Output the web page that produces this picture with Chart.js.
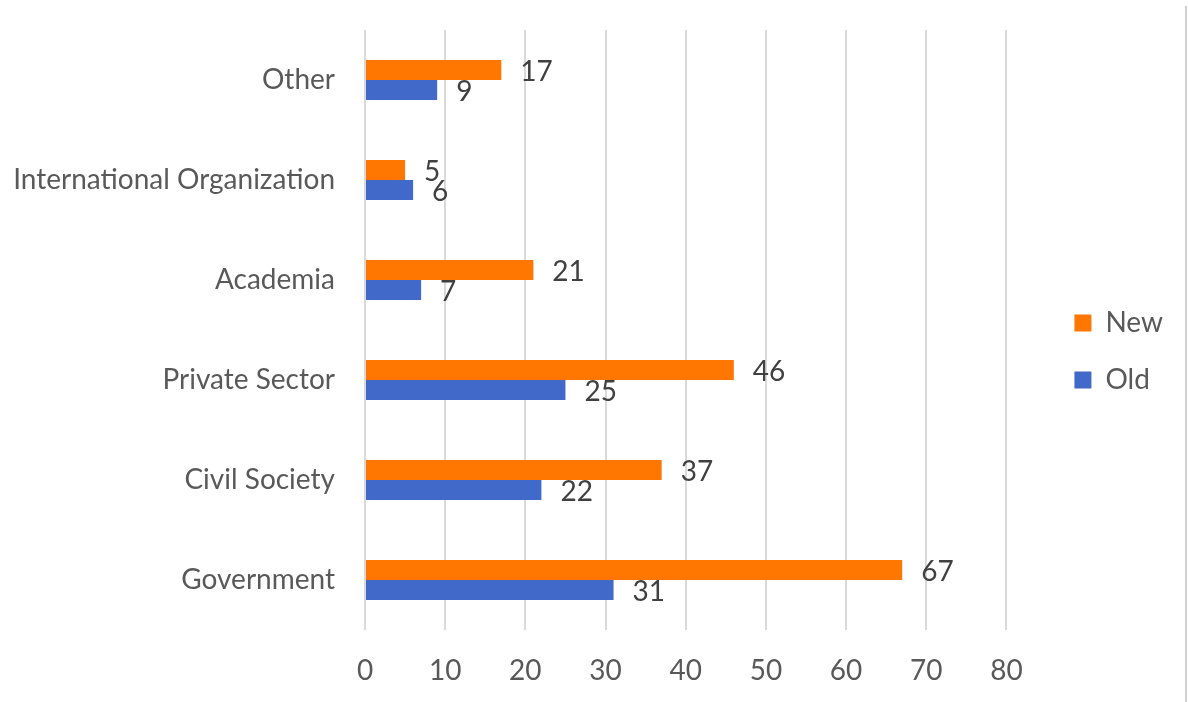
<!DOCTYPE html>
<html>
<head>
<meta charset="utf-8">
<script src="https://cdn.jsdelivr.net/npm/chart.js@4.4.1/dist/chart.umd.min.js"></script>
<style>
  html, body { margin: 0; padding: 0; background: #fff; }
  #wrap { width: 1188px; height: 702px; position: relative; }
  #edge { position: absolute; left: 1185px; top: 6px; width: 2px; height: 696px; background: #cfcfcf; }
</style>
</head>
<body>
<div id="wrap">
  <canvas id="myChart" width="1188" height="702"></canvas>
  <div id="edge"></div>
</div>
<script>
var categories = ["Other", "International Organization", "Academia", "Private Sector", "Civil Society", "Government"];
var newValues = [17, 5, 21, 46, 37, 67];
var oldValues = [9, 6, 7, 25, 22, 31];
var xTicks = [0, 10, 20, 30, 40, 50, 60, 70, 80];

var fontName = "Lato, 'Open Sans', sans-serif";
var fontSize = 28;

// writes each bar's value just past its end
var valueLabels = {
  id: "valueLabels",
  afterDatasetsDraw: function(chart) {
    var ctx = chart.ctx;
    ctx.save();
    ctx.font = fontSize + "px " + fontName;
    ctx.fillStyle = "#404040";
    ctx.textBaseline = "middle";
    ctx.textAlign = "left";
    chart.data.datasets.forEach(function(ds, i) {
      var meta = chart.getDatasetMeta(i);
      meta.data.forEach(function(bar, j) {
        ctx.fillText(ds.data[j], bar.x + 19, bar.y + 2);
      });
    });
    ctx.restore();
  }
};

function init() {
  var ctx = document.getElementById("myChart");
  new Chart(ctx, {
    type: "bar",
    data: {
      labels: categories,
      datasets: [
        {
          label: "New",
          data: newValues,
          backgroundColor: "#ff7600",
          categoryPercentage: 0.4,
          barPercentage: 1.0
        },
        {
          label: "Old",
          data: oldValues,
          backgroundColor: "#4169c9",
          categoryPercentage: 0.4,
          barPercentage: 1.0
        }
      ]
    },
    options: {
      indexAxis: "y",
      responsive: false,
      animation: false,
      layout: {
        autoPadding: false,
        padding: { top: 13, bottom: 12, left: 0, right: 15 }
      },
      scales: {
        x: {
          min: 0,
          max: 80,
          afterBuildTicks: function(scale) {
            scale.ticks = xTicks.map(function(v) { return { value: v }; });
          },
          afterFit: function(scale) {
            scale.height = 60;
            scale.paddingLeft = 0;
            scale.paddingRight = 0;
          },
          grid: { color: "#d9d9d9", lineWidth: 2, drawTicks: false },
          border: { display: false },
          ticks: {
            padding: 24,
            color: "#595959",
            font: { family: fontName, size: fontSize }
          }
        },
        y: {
          grid: { display: false, drawTicks: false },
          border: { display: false },
          afterFit: function(scale) {
            scale.width = 365;
            // plot starts 30px from the top
            scale.paddingTop = 30;
            scale.paddingBottom = 0;
          },
          ticks: {
            padding: 30,
            color: "#595959",
            font: { family: fontName, size: fontSize }
          }
        },
        // empty strip between the plot and the legend
        gap: {
          type: "linear",
          axis: "y",
          position: "right",
          grid: { display: false, drawTicks: false },
          border: { display: false },
          ticks: { display: false },
          afterFit: function(scale) {
            scale.width = 39;
            scale.paddingTop = 0;
            scale.paddingBottom = 0;
          }
        }
      },
      plugins: {
        tooltip: { enabled: false },
        legend: {
          position: "right",
          labels: {
            boxWidth: 17,
            boxHeight: 17,
            padding: 29,
            color: "#595959",
            font: { family: fontName, size: fontSize }
          }
        }
      }
    },
    plugins: [valueLabels]
  });
}

init();
</script>
</body>
</html>
